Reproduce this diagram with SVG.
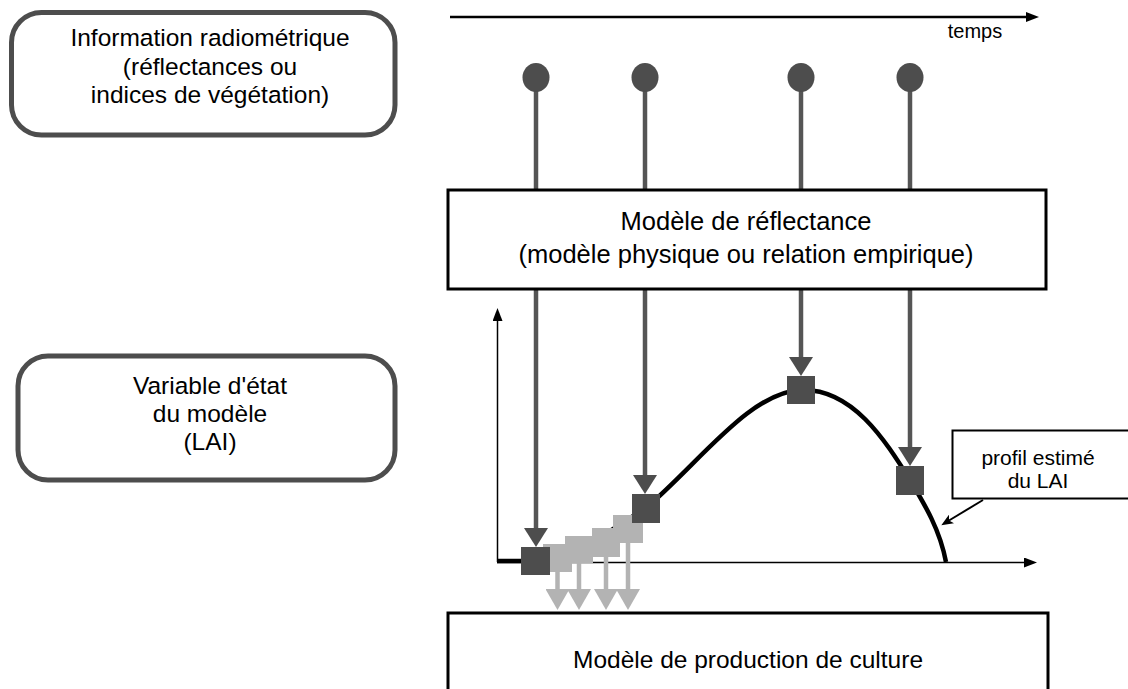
<svg xmlns="http://www.w3.org/2000/svg" width="1128" height="689" viewBox="0 0 1128 689">
<style>
  text { font-family: "Liberation Sans", Arial, Helvetica, sans-serif; fill: #000; text-anchor: middle; }
  .rbox { fill: #fff; stroke: #4d4d4d; stroke-width: 5; }
  .box { fill: #fff; stroke: #000; stroke-width: 3; }
  .dark { fill: #4d4d4d; }
  .light { fill: #b3b3b3; }
  .shaft { stroke: #555; stroke-width: 4.5; fill: none; }
  .lshaft { stroke: #b3b3b3; stroke-width: 4.5; fill: none; }
  .axis { stroke: #000; stroke-width: 1.5; fill: none; }
  .tl { font-size: 24.5px; }
  .tb { font-size: 25.5px; }
</style>
<defs>
  <marker id="darrow" markerUnits="userSpaceOnUse" viewBox="0 0 19 24" refX="9" refY="12" markerWidth="19" markerHeight="24" orient="auto">
    <path d="M0,0 L19,12 L0,24 z" fill="#4d4d4d"/>
  </marker>
  <marker id="larrow" markerUnits="userSpaceOnUse" viewBox="0 0 21 24" refX="9" refY="12" markerWidth="21" markerHeight="24" orient="auto">
    <path d="M0,0 L21,12 L0,24 z" fill="#b3b3b3"/>
  </marker>
  <marker id="karrow" markerUnits="userSpaceOnUse" viewBox="0 0 13 10" refX="3" refY="5" markerWidth="13" markerHeight="10" orient="auto">
    <path d="M0,0 L13,5 L0,10 z" fill="#000"/>
  </marker>
  <marker id="carrow" markerUnits="userSpaceOnUse" viewBox="0 0 12 10" refX="3" refY="5" markerWidth="12" markerHeight="10" orient="auto">
    <path d="M0,0 L12,5 L0,10 L3,5 z" fill="#000"/>
  </marker>
</defs>
<rect width="1128" height="689" fill="#fff"/>

<g id="node-info-radiometrique">
  <rect class="rbox" x="11.5" y="12.5" width="383.5" height="122.5" rx="30"/>
  <text class="tl" x="210" y="46">Information radiométrique</text>
  <text class="tl" x="210" y="74.5">(réflectances ou</text>
  <text class="tl" x="210" y="103">indices de végétation)</text>
</g>

<g id="node-variable-etat">
  <rect class="rbox" x="18" y="356" width="377" height="124" rx="30"/>
  <text class="tl" x="210" y="394">Variable d'état</text>
  <text class="tl" x="210" y="422">du modèle</text>
  <text class="tl" x="210" y="450">(LAI)</text>
</g>

<g id="node-temps">
  <text x="975" y="38" style="font-size:20px">temps</text>
</g>

<g id="node-curve">
  <path d="M497,561 L535,561 C575,558 610,530 646,508 C700,462 750,392 801,390 C852,388 885,440 910,480 C925,505 940,530 946,562" fill="none" stroke="#000" stroke-width="4.5"/>
</g>

<g id="connectors">
  <!-- time axis -->
  <line x1="450" y1="17" x2="1029" y2="17" stroke="#000" stroke-width="2.5" marker-end="url(#karrow)"/>
  <!-- graph axes -->
  <line class="axis" x1="497.5" y1="562" x2="497.5" y2="318" marker-end="url(#karrow)"/>
  <line class="axis" x1="497" y1="562.5" x2="1027" y2="562.5" marker-end="url(#karrow)"/>
  <!-- pins stems -->
  <line class="shaft" x1="536" y1="90" x2="536" y2="190"/>
  <line class="shaft" x1="645" y1="90" x2="645" y2="190"/>
  <line class="shaft" x1="801" y1="90" x2="801" y2="190"/>
  <line class="shaft" x1="910" y1="90" x2="910" y2="190"/>
  <!-- arrows from reflectance model -->
  <line class="shaft" x1="536" y1="290" x2="536" y2="537" marker-end="url(#darrow)"/>
  <line class="shaft" x1="645" y1="290" x2="645" y2="484" marker-end="url(#darrow)"/>
  <line class="shaft" x1="801" y1="290" x2="801" y2="366" marker-end="url(#darrow)"/>
  <line class="shaft" x1="910" y1="290" x2="910" y2="456" marker-end="url(#darrow)"/>
  <!-- callout pointer -->
  <line x1="983" y1="500" x2="949" y2="520.5" stroke="#000" stroke-width="2" marker-end="url(#carrow)"/>
</g>

<g id="node-pins">
  <ellipse class="dark" cx="536" cy="77.5" rx="13.5" ry="14.5"/>
  <ellipse class="dark" cx="645" cy="77.5" rx="13.5" ry="14.5"/>
  <ellipse class="dark" cx="801" cy="77.5" rx="13.5" ry="14.5"/>
  <ellipse class="dark" cx="910" cy="77.5" rx="13.5" ry="14.5"/>
</g>

<g id="node-modele-reflectance">
  <rect class="box" x="448" y="190" width="598" height="99"/>
  <text class="tb" x="746" y="230">Modèle de réflectance</text>
  <text class="tb" x="746" y="263">(modèle physique ou relation empirique)</text>
</g>

<g id="node-light-estimates">
  <g id="light-arrows">
    <line class="lshaft" x1="557.5" y1="570" x2="557.5" y2="598" marker-end="url(#larrow)"/>
    <line class="lshaft" x1="579" y1="560" x2="579" y2="598" marker-end="url(#larrow)"/>
    <line class="lshaft" x1="606" y1="555" x2="606" y2="598" marker-end="url(#larrow)"/>
    <line class="lshaft" x1="628" y1="540" x2="628" y2="598" marker-end="url(#larrow)"/>
  </g>
  <rect class="light" x="613" y="515" width="30" height="28"/>
  <rect class="light" x="592" y="528" width="28" height="29"/>
  <rect class="light" x="565" y="536" width="28" height="27"/>
  <rect class="light" x="543" y="544" width="29" height="28"/>
</g>

<g id="node-dark-estimates">
  <rect class="dark" x="521" y="547" width="29" height="28"/>
  <rect class="dark" x="632" y="494" width="28" height="29"/>
  <rect class="dark" x="787" y="376" width="28" height="28"/>
  <rect class="dark" x="896" y="466" width="28" height="29"/>
</g>

<g id="node-profil-estime">
  <rect x="952.5" y="430.5" width="200" height="68" fill="#fff" stroke="#000" stroke-width="2"/>
  <text x="1038" y="465" style="font-size:21px">profil estimé</text>
  <text x="1038" y="488" style="font-size:21px">du LAI</text>
</g>

<g id="node-modele-production">
  <rect class="box" x="448" y="613" width="600" height="100"/>
  <text class="tl" x="748" y="668">Modèle de production de culture</text>
</g>
</svg>
